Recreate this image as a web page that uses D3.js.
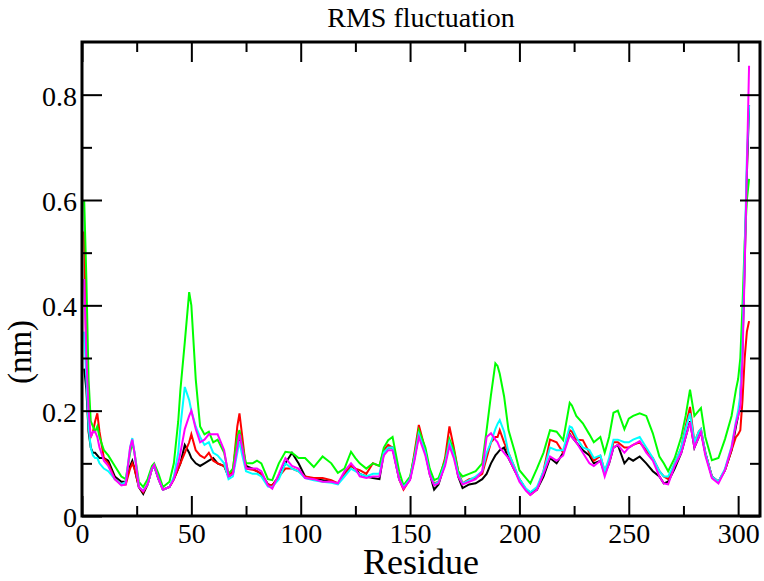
<!DOCTYPE html>
<html>
<head>
<meta charset="utf-8">
<script src="https://cdn.jsdelivr.net/npm/d3@7"></script>
<style>
  body { margin: 0; background: #fff; }
  svg { display: block; font-family: "Liberation Serif", "Times New Roman", serif; }
</style>
</head>
<body>
<div id="chart"></div>
<script>
// residue positions shared by all five runs
var residues = [1, 2, 3, 4, 5, 6, 7, 8, 10, 12, 15, 18, 20, 22, 23, 24, 26, 28, 30, 32,
  33, 35, 37, 40, 42, 44, 45, 47, 49, 50, 52, 54, 56, 58, 60, 62, 65, 67, 69, 71,
  72, 73, 75, 78, 80, 82, 85, 87, 90, 93, 96, 99, 102, 106, 110, 114, 117, 120, 123, 125,
  127, 130, 133, 136, 138, 140, 142, 145, 147, 150, 152, 154, 157, 159, 161, 163, 166, 168, 170, 172,
  174, 177, 180, 183, 185, 187, 189, 190, 191, 193, 195, 198, 200, 203, 205, 208, 211, 214, 217, 220,
  223, 224, 226, 229, 232, 234, 237, 239, 241, 243, 245, 248, 250, 252, 255, 258, 261, 264, 266, 268,
  271, 274, 276, 278, 280, 282, 283, 285, 288, 291, 294, 297, 299, 300, 301, 302, 303, 304, 305];

var blackRun = [0.28, 0.24, 0.16, 0.13, 0.12, 0.12, 0.115, 0.11, 0.11, 0.105, 0.075, 0.065, 0.065, 0.095, 0.105, 0.09, 0.055, 0.042, 0.06, 0.09,
  0.095, 0.07, 0.05, 0.055, 0.07, 0.09, 0.10, 0.135, 0.12, 0.11, 0.10, 0.095, 0.10, 0.105, 0.11, 0.10, 0.095, 0.075, 0.08, 0.13,
  0.15, 0.13, 0.095, 0.09, 0.085, 0.08, 0.06, 0.058, 0.075, 0.10, 0.12, 0.10, 0.075, 0.07, 0.068, 0.065, 0.062, 0.078, 0.095, 0.09,
  0.08, 0.075, 0.072, 0.07, 0.12, 0.13, 0.13, 0.07, 0.055, 0.07, 0.11, 0.155, 0.12, 0.08, 0.05, 0.06, 0.10, 0.14, 0.12, 0.075,
  0.053, 0.06, 0.062, 0.07, 0.08, 0.10, 0.115, 0.12, 0.125, 0.13, 0.11, 0.085, 0.07, 0.05, 0.045, 0.05, 0.075, 0.11, 0.10, 0.12,
  0.156, 0.15, 0.14, 0.125, 0.115, 0.10, 0.105, 0.08, 0.10, 0.13, 0.135, 0.10, 0.11, 0.105, 0.113, 0.10, 0.085, 0.075, 0.062, 0.065,
  0.09, 0.12, 0.15, 0.18, 0.13, 0.15, 0.16, 0.12, 0.075, 0.065, 0.087, 0.125, 0.17, 0.19, 0.22, 0.32, 0.48, 0.65, 0.78];

var redRun = [0.54, 0.30, 0.18, 0.15, 0.16, 0.18, 0.195, 0.16, 0.11, 0.10, 0.07, 0.06, 0.06, 0.09, 0.10, 0.09, 0.055, 0.045, 0.06, 0.09,
  0.095, 0.07, 0.05, 0.055, 0.07, 0.09, 0.10, 0.12, 0.14, 0.155, 0.125, 0.115, 0.11, 0.12, 0.105, 0.10, 0.095, 0.075, 0.085, 0.17,
  0.195, 0.16, 0.09, 0.088, 0.085, 0.08, 0.06, 0.058, 0.075, 0.09, 0.09, 0.085, 0.075, 0.072, 0.072, 0.068, 0.062, 0.08, 0.095, 0.09,
  0.087, 0.08, 0.10, 0.095, 0.125, 0.135, 0.13, 0.07, 0.05, 0.07, 0.12, 0.173, 0.125, 0.08, 0.062, 0.065, 0.11, 0.17, 0.13, 0.085,
  0.062, 0.07, 0.072, 0.08, 0.11, 0.14, 0.15, 0.15, 0.163, 0.14, 0.12, 0.09, 0.068, 0.05, 0.04, 0.05, 0.085, 0.145, 0.14, 0.12,
  0.163, 0.16, 0.145, 0.144, 0.12, 0.105, 0.114, 0.085, 0.105, 0.14, 0.14, 0.13, 0.13, 0.135, 0.14, 0.125, 0.11, 0.085, 0.075, 0.07,
  0.10, 0.13, 0.17, 0.207, 0.14, 0.16, 0.165, 0.12, 0.075, 0.065, 0.087, 0.125, 0.15, 0.155, 0.163, 0.22, 0.30, 0.35, 0.37];

var greenRun = [0.60, 0.45, 0.26, 0.18, 0.17, 0.16, 0.17, 0.15, 0.125, 0.115, 0.095, 0.075, 0.07, 0.12, 0.14, 0.12, 0.065, 0.055, 0.07, 0.095,
  0.10, 0.08, 0.055, 0.065, 0.10, 0.18, 0.24, 0.33, 0.425, 0.40, 0.26, 0.17, 0.155, 0.16, 0.14, 0.145, 0.12, 0.08, 0.09, 0.15,
  0.163, 0.14, 0.10, 0.10, 0.105, 0.10, 0.07, 0.068, 0.10, 0.122, 0.12, 0.11, 0.11, 0.093, 0.113, 0.10, 0.082, 0.09, 0.122, 0.11,
  0.10, 0.09, 0.10, 0.095, 0.13, 0.144, 0.15, 0.085, 0.058, 0.075, 0.115, 0.163, 0.13, 0.09, 0.068, 0.072, 0.105, 0.146, 0.125, 0.085,
  0.075, 0.08, 0.085, 0.10, 0.163, 0.23, 0.29, 0.285, 0.27, 0.227, 0.163, 0.12, 0.087, 0.072, 0.062, 0.09, 0.12, 0.163, 0.16, 0.144,
  0.215, 0.21, 0.19, 0.176, 0.155, 0.14, 0.15, 0.12, 0.15, 0.196, 0.20, 0.165, 0.185, 0.19, 0.195, 0.19, 0.157, 0.113, 0.10, 0.085,
  0.11, 0.15, 0.19, 0.24, 0.19, 0.20, 0.205, 0.15, 0.106, 0.11, 0.146, 0.19, 0.24, 0.26, 0.30, 0.40, 0.52, 0.60, 0.64];

var cyanRun = [0.35, 0.26, 0.17, 0.13, 0.115, 0.11, 0.11, 0.10, 0.09, 0.085, 0.07, 0.06, 0.065, 0.13, 0.148, 0.12, 0.055, 0.048, 0.06, 0.09,
  0.095, 0.07, 0.05, 0.055, 0.075, 0.12, 0.17, 0.245, 0.22, 0.20, 0.17, 0.15, 0.135, 0.14, 0.12, 0.115, 0.10, 0.07, 0.075, 0.12,
  0.142, 0.12, 0.085, 0.08, 0.08, 0.075, 0.056, 0.055, 0.07, 0.10, 0.09, 0.085, 0.072, 0.068, 0.065, 0.063, 0.06, 0.075, 0.09, 0.085,
  0.08, 0.075, 0.08, 0.08, 0.12, 0.13, 0.13, 0.07, 0.055, 0.07, 0.11, 0.155, 0.12, 0.08, 0.06, 0.065, 0.10, 0.14, 0.115, 0.08,
  0.062, 0.068, 0.075, 0.085, 0.12, 0.14, 0.165, 0.175, 0.182, 0.16, 0.12, 0.09, 0.07, 0.052, 0.045, 0.055, 0.085, 0.13, 0.125, 0.125,
  0.17, 0.168, 0.15, 0.13, 0.125, 0.11, 0.115, 0.085, 0.11, 0.145, 0.145, 0.14, 0.14, 0.145, 0.15, 0.13, 0.11, 0.085, 0.075, 0.075,
  0.10, 0.13, 0.165, 0.195, 0.14, 0.16, 0.165, 0.12, 0.075, 0.065, 0.09, 0.132, 0.18, 0.20, 0.23, 0.33, 0.50, 0.68, 0.78];

var magentaRun = [0.45, 0.30, 0.20, 0.15, 0.16, 0.16, 0.15, 0.13, 0.105, 0.095, 0.07, 0.058, 0.06, 0.13, 0.145, 0.12, 0.055, 0.047, 0.06, 0.09,
  0.097, 0.07, 0.05, 0.055, 0.07, 0.10, 0.12, 0.165, 0.19, 0.20, 0.165, 0.14, 0.145, 0.155, 0.155, 0.155, 0.125, 0.075, 0.08, 0.13,
  0.156, 0.135, 0.09, 0.09, 0.09, 0.085, 0.058, 0.052, 0.08, 0.11, 0.095, 0.09, 0.072, 0.07, 0.065, 0.065, 0.062, 0.085, 0.10, 0.09,
  0.075, 0.072, 0.075, 0.075, 0.115, 0.125, 0.125, 0.07, 0.052, 0.068, 0.105, 0.15, 0.115, 0.078, 0.058, 0.062, 0.095, 0.133, 0.11, 0.075,
  0.06, 0.065, 0.07, 0.085, 0.15, 0.157, 0.145, 0.14, 0.13, 0.12, 0.11, 0.085, 0.065, 0.048, 0.04, 0.05, 0.08, 0.113, 0.105, 0.115,
  0.154, 0.15, 0.14, 0.12, 0.10, 0.095, 0.105, 0.075, 0.10, 0.13, 0.135, 0.12, 0.13, 0.135, 0.142, 0.12, 0.105, 0.075, 0.062, 0.06,
  0.095, 0.12, 0.15, 0.178, 0.13, 0.15, 0.16, 0.115, 0.072, 0.062, 0.087, 0.13, 0.175, 0.19, 0.207, 0.30, 0.47, 0.66, 0.855];

var runColors = ["#000000", "#ff0000", "#00ff00", "#00ffff", "#ff00ff"];

var xMajorTicks = [0, 50, 100, 150, 200, 250, 300];
var xMinorTicks = [25, 75, 125, 175, 225, 275];
var yMajorTicks = [0, 0.2, 0.4, 0.6, 0.8];
var yMinorTicks = [0.1, 0.3, 0.5, 0.7];

var svgWidth = 764;
var svgHeight = 581;

var margin = {
  top: 42,
  right: 4,
  bottom: 65,
  left: 82
};

var width = svgWidth - margin.left - margin.right;
var height = svgHeight - margin.top - margin.bottom;

var svg = d3.select("#chart")
  .append("svg")
  .attr("width", svgWidth)
  .attr("height", svgHeight);

var chartGroup = svg.append("g")
  .attr("transform", `translate(${margin.left}, ${margin.top})`);

var xScale = d3.scaleLinear()
  .domain([0, 310])
  .range([0, width]);

var yScale = d3.scaleLinear()
  .domain([0, 0.9])
  .range([height, 0]);

// data lines, drawn in the order xmgrace stacks them
var runs = [blackRun, redRun, greenRun, cyanRun, magentaRun];

var lineGen = d3.line()
  .x((d, i) => xScale(residues[i]))
  .y(d => yScale(d));

runs.forEach(function(run, k) {
  chartGroup.append("path")
    .datum(run)
    .attr("d", lineGen)
    .attr("fill", "none")
    .attr("stroke", runColors[k])
    .attr("stroke-width", 2);
});

// inward ticks on all four sides
function tickAxis(axis, values, size, showLabels, fmt) {
  axis.tickValues(values)
    .tickSizeInner(-size)
    .tickSizeOuter(0)
    .tickPadding(showLabels ? size + 6 : 0)
    .tickFormat(showLabels ? fmt : "");
  return axis;
}

var fmtY = d => d === 0 ? "0" : d3.format(".1f")(d);
var fmtX = d3.format("d");

var axes = [
  { g: chartGroup.append("g").attr("transform", `translate(0, ${height})`), make: d3.axisBottom, scale: xScale, major: xMajorTicks, minor: xMinorTicks, labels: true, fmt: fmtX },
  { g: chartGroup.append("g"), make: d3.axisTop, scale: xScale, major: xMajorTicks, minor: xMinorTicks, labels: false, fmt: fmtX },
  { g: chartGroup.append("g"), make: d3.axisLeft, scale: yScale, major: yMajorTicks, minor: yMinorTicks, labels: true, fmt: fmtY },
  { g: chartGroup.append("g").attr("transform", `translate(${width}, 0)`), make: d3.axisRight, scale: yScale, major: yMajorTicks, minor: yMinorTicks, labels: false, fmt: fmtY }
];

axes.forEach(function(a) {
  var majorG = a.g.append("g").call(tickAxis(a.make(a.scale), a.major, 20, a.labels, a.fmt));
  var minorG = a.g.append("g").call(tickAxis(a.make(a.scale), a.minor, 10, false, a.fmt));
  [majorG, minorG].forEach(function(g) {
    g.select(".domain").remove();
    g.selectAll("line").attr("stroke", "#000").attr("stroke-width", 2);
    g.selectAll("text")
      .attr("fill", "#000")
      .style("font-family", "'Liberation Serif', 'Times New Roman', serif")
      .style("font-size", "28px");
  });
});

// tick labels sit where xmgrace puts them
axes[0].g.selectAll("text").attr("y", 0).attr("dy", 0).attr("transform", "translate(0, 27)");
axes[2].g.selectAll("text").attr("x", -5).attr("dy", "0.38em");

// frame
chartGroup.append("rect")
  .attr("x", 0)
  .attr("y", 0)
  .attr("width", width)
  .attr("height", height)
  .attr("fill", "none")
  .attr("stroke", "#000")
  .attr("stroke-width", 3);

// title and axis labels
svg.append("text")
  .attr("x", margin.left + width / 2)
  .attr("y", 27)
  .attr("text-anchor", "middle")
  .style("font-size", "28px")
  .text("RMS fluctuation");

svg.append("text")
  .attr("x", margin.left + width / 2)
  .attr("y", 574)
  .attr("text-anchor", "middle")
  .style("font-size", "36px")
  .text("Residue");

svg.append("text")
  .attr("transform", "translate(31, 352) rotate(-90)")
  .attr("text-anchor", "middle")
  .style("font-size", "33px")
  .text("(nm)");
</script>
</body>
</html>
